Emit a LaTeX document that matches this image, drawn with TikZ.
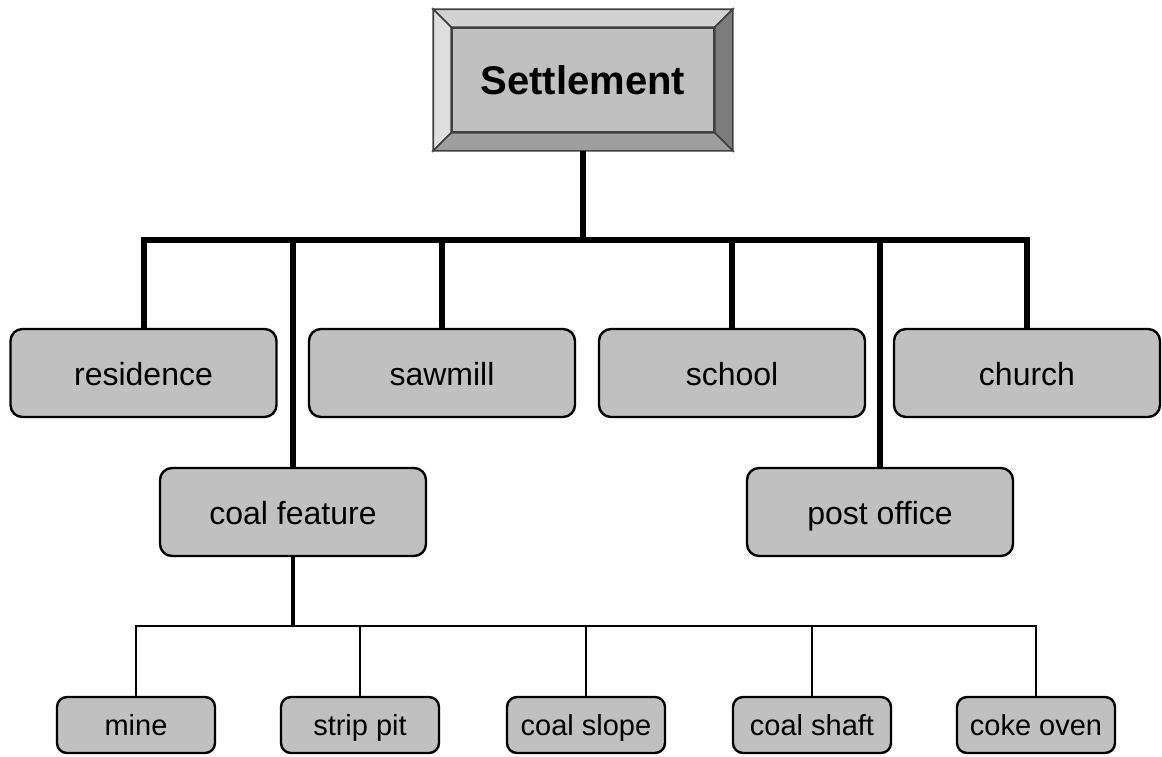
\documentclass[tikz,border=0pt]{standalone}
\usepackage{fontspec}
\setmainfont{Liberation Sans}
\usetikzlibrary{calc}
\definecolor{boxgray}{RGB}{192,192,192}
\definecolor{bevtop}{RGB}{210,210,210}
\definecolor{bevleft}{RGB}{222,222,222}
\definecolor{bevright}{RGB}{124,124,124}
\definecolor{bevbottom}{RGB}{158,158,158}
\def\bev{18}

\begin{document}
\begin{tikzpicture}[x=1pt,y=-1pt,line join=miter]
    \tikzstyle{place}=[rectangle,rounded corners=12pt,draw=black,line width=2.4pt,fill=boxgray,minimum width=266pt,minimum height=88pt,inner sep=0pt,text height=30pt,text depth=4.6pt,font=\fontsize{32}{38}\selectfont]
    \tikzstyle{feature}=[place,rounded corners=10pt,minimum width=158pt,minimum height=56pt,text height=25pt,text depth=5pt,font=\fontsize{29}{34}\selectfont]
    \tikzstyle{trunk}=[line width=6pt]
    \tikzstyle{twig}=[line width=2.4pt]
    \tikzstyle{bevel}=[draw=black!75,line width=1.6pt]

    \useasboundingbox (0,0) rectangle (1162,756);

    \node[rectangle,draw=black!75,line width=1.6pt,fill=boxgray,minimum width=262pt,minimum height=104pt,font=\bfseries\fontsize{40}{48}\selectfont] (settle) at (583,80) {Settlement};

    \node[place] (res) at (143.5,373) {residence};
    \node[place] (saw) at (442,373) {sawmill};
    \node[place] (school) at (732,373) {school};
    \node[place] (church) at (1027,373) {church};
    \node[place] (coal) at (293,512) {coal feature};
    \node[place] (post) at (880,512) {post office};

    \node[feature] (mine) at (136,725) {mine};
    \node[feature] (pit) at (360,725) {strip pit};
    \node[feature] (slope) at (586,725) {coal slope};
    \node[feature] (shaft) at (812,725) {coal shaft};
    \node[feature] (coke) at (1036,725) {coke oven};

    % raised frame round the title
    \coordinate (o1) at ($(settle.north west)+(-\bev,-\bev)$);
    \coordinate (o2) at ($(settle.north east)+(\bev,-\bev)$);
    \coordinate (o3) at ($(settle.south east)+(\bev,\bev)$);
    \coordinate (o4) at ($(settle.south west)+(-\bev,\bev)$);
    \filldraw[bevel,fill=bevtop] (o1) -- (o2) -- (settle.north east) -- (settle.north west) -- cycle;
    \filldraw[bevel,fill=bevleft] (o1) -- (settle.north west) -- (settle.south west) -- (o4) -- cycle;
    \filldraw[bevel,fill=bevright] (o2) -- (o3) -- (settle.south east) -- (settle.north east) -- cycle;
    \filldraw[bevel,fill=bevbottom] (o4) -- (settle.south west) -- (settle.south east) -- (o3) -- cycle;

    \coordinate (base) at ($(settle.south)+(0,\bev)$);
    \coordinate (bar) at (583,239.5);
    \coordinate (fork) at (293,626);

    \draw[trunk] (base) -- (base |- bar);
    \draw[trunk] (res.north) -- (res.north |- bar) -- (church.north |- bar) -- (church.north);
    \foreach \n in {saw,coal,school,post}
        \draw[trunk] (\n.north) -- (\n.north |- bar);

    \draw[line width=3.4pt] (coal.south) -- (fork);
    \draw[twig] (mine.north) -- (mine.north |- fork) -- (coke.north |- fork) -- (coke.north);
    \foreach \n in {pit,slope,shaft}
        \draw[twig] (\n.north) -- (\n.north |- fork);
\end{tikzpicture}
\end{document}
